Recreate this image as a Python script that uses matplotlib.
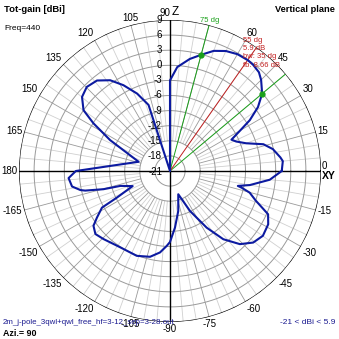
import numpy as np
import matplotlib
matplotlib.use('Agg')
import matplotlib.pyplot as plt
from matplotlib.transforms import offset_copy

plt.rcParams['font.family'] = ['Liberation Sans', 'DejaVu Sans']

# elevation angle (deg) and total gain (dBi)
ang = [0, 5, 7, 12, 16, 20, 24, 27, 30, 32.5, 36, 40, 45, 48, 52, 55, 60, 65, 70, 75,
       80, 86, 90, 95, 108, 113, 118.5, 123.4, 128.9, 134.7, 139.9, 144.9, 148.1, 152.7,
       163.6, 180, 184, 189, 192, 193, 195.3, 196.7, 202, 206.6, 208.3, 212.5, 215.6,
       220.2, 225.7, 236.9, 248.6, 256.9, 263, 267.5, 270, 275, 281.7, 289.6, 296.6,
       302.9, 308, 313.7, 319.3, 325.1, 331.5, 336.2, 341, 344.8, 346.9, 347.6, 350,
       355, 360]
gain = [1.2, 1.5, 1.1, -0.1, -1.7, -4.9, -6.6, -7.3, -4.9, -2.2, 0.6, 2.9, 4.6, 5.4, 5.8, 5.9,
        5.8, 5.3, 4.4, 2.9, 1.6, -0.3, -3.0, -21, -7.2, -4.3, -1.6, 0.6, 2.1, 2.5, 1.85,
        0.0, -3.1, -7.6, -14.5, -2.3, -0.8, -1.3, -2.8, -3.7, -7.3, -10.7, -13.0, -9.2,
        -5.65, -3.8, -2.3, -1.6, -2.1, -2.9, -2.9, -3.5, -4.7, -6.1, -6.9, -9.7, -12.9,
        -16.1, -12.1, -7.6, -3.8, -0.9, 0.8, 1.5, 1.2, 0.3, -3.0, -4.6, -6.4, -7.2, -4.9,
        -1.1, 1.2]

rings = [-18, -15, -12, -9, -6, -3, 0, 3, 6]
ring_labels = ['-18', '-15', '-12', '-9', '-6', '-3', '0', '3', '6', '9']
ang_ticks = [15, 30, 45, 60, 105, 120, 135, 150, 165, 180,
             -165, -150, -135, -120, -105, -90, -75, -60, -45, -30, -15]

max_ang = 55
max_gain = 5.9
bw_lo, bw_hi = 40, 75
rmin, rmax = -21, 9

fig = plt.figure(figsize=(3.39, 3.39), dpi=100)
fig.patch.set_facecolor('white')
ax = fig.add_axes([19/339, 17/339, 302/339, 302/339], projection='polar')
ax.set_ylim(rmin, rmax)
ax.axis('off')

# grid
for a in range(0, 360, 5):
    t = np.radians(a)
    if a % 15 == 0:
        ax.plot([t, t], [-15, rmax], color='#9a9a9a', lw=0.6, zorder=1)
    else:
        ax.plot([t, t], [-15, rmax], color='#d0d0d0', lw=0.6, zorder=1)
th = np.linspace(0, 2*np.pi, 361)
for r in rings:
    ax.plot(th, np.full_like(th, r), color='#9a9a9a', lw=0.7, zorder=1)
ax.plot(th, np.full_like(th, rmax), color='black', lw=0.9, zorder=2)
ax.plot([0, np.pi], [rmax, rmax], color='black', lw=1.0, zorder=2)
ax.plot([np.pi/2, 3*np.pi/2], [rmax, rmax], color='black', lw=1.0, zorder=2)

# beamwidth and max direction lines
for a in [bw_lo, bw_hi]:
    ax.plot([np.radians(a)] * 2, [rmin, rmax], color='#1aa01a', lw=0.7, zorder=3)
ax.plot([np.radians(max_ang)] * 2, [rmin, rmax], color='#c02020', lw=0.7, zorder=3)

# pattern
ax.plot(np.radians(ang), gain, color='#0c1aa0', lw=1.5, zorder=4)
ax.plot(np.radians([bw_lo, bw_hi]), [max_gain - 3, max_gain - 3], 'o',
        color='#1aa01a', ms=3.5, zorder=5)

# dB labels along the vertical axis
tr = offset_copy(ax.transData, fig=fig, x=-8, y=0, units='dots')
for r, lab in zip(rings + [rmax], ring_labels):
    ax.text(np.pi/2, r, lab, transform=tr, ha='right', va='center', fontsize=7)
ax.text(np.pi/2, rmin, '-21', transform=offset_copy(ax.transData, fig=fig, x=-7, y=-1, units='dots'),
        ha='right', va='center', fontsize=7)

# angle labels
for a in ang_ticks:
    t = np.radians(a)
    c, s = np.cos(t), np.sin(t)
    ha = 'left' if c > 0.3 else ('right' if c < -0.3 else 'center')
    va = 'bottom' if s > 0.3 else ('top' if s < -0.3 else 'center')
    ax.text(t, rmax + 0.4, str(a), ha=ha, va=va, fontsize=7)
ax.text(np.pi/2, rmax + 0.4, '90', ha='right', va='bottom', fontsize=7,
        transform=offset_copy(ax.transData, fig=fig, x=0, y=0, units='dots'))
ax.text(np.pi/2, rmax + 0.4, 'Z', ha='left', va='bottom', fontsize=8.5,
        transform=offset_copy(ax.transData, fig=fig, x=2, y=0, units='dots'))
ax.text(0, rmax + 0.2, '0', ha='left', va='bottom', fontsize=7)
ax.text(0, rmax + 0.2, 'XY', ha='left', va='top', fontsize=7.5, fontweight='bold')

# annotations
ax.text(np.radians(bw_hi), rmax + 0.3, '%d dg' % bw_hi, ha='center', va='bottom',
        fontsize=5.5, color='#1aa01a')
red = ['%d dg' % max_ang, '%.1f dB' % max_gain, 'bw: %d dg' % (bw_hi - bw_lo), 'fb: 8.66 dB']
for i, s in enumerate(red):
    fig.text(243/339, 1 - (40 + i*8.5)/339, s, ha='left', va='center', fontsize=5.5, color='#c02020')

fig.text(4/339, 1 - 9/339, 'Tot-gain [dBi]', ha='left', va='center', fontsize=6.8, fontweight='bold')
fig.text(4/339, 1 - 28/339, 'Freq=440', ha='left', va='center', fontsize=6)
fig.text(335/339, 1 - 9/339, 'Vertical plane', ha='right', va='center', fontsize=6.7, fontweight='bold')
fig.text(3/339, 1 - 323/339, '2m_j-pole_3qwl+qwl_free_hf=3-12_sep=3-28.out', ha='left', va='center',
         fontsize=5.7, color='#1a1a90')
fig.text(3/339, 1 - 333/339, 'Azi.= 90', ha='left', va='center', fontsize=6.4, fontweight='bold')
fig.text(335/339, 1 - 323/339, '-21 < dBi < 5.9', ha='right', va='center', fontsize=6, color='#1a1a90')

fig.savefig('out.png', dpi=100)
